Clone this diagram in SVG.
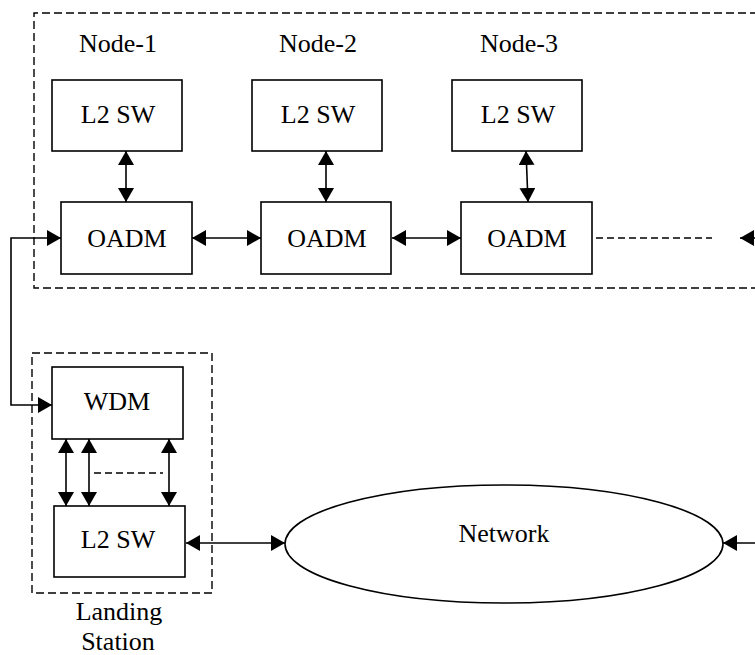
<svg xmlns="http://www.w3.org/2000/svg" width="755" height="655" viewBox="0 0 755 655">
<style>
  .box{fill:#fff;stroke:#000;stroke-width:1.6}
  .bd{fill:none;stroke:#000;stroke-width:1.4;stroke-dasharray:8,4}
  .t{font-family:'Liberation Serif','Times New Roman',Times,'DejaVu Serif',serif;font-size:26px;fill:#000;text-anchor:middle}
  .c{fill:none;stroke:#000;stroke-width:1.6}
  .cd{fill:none;stroke:#000;stroke-width:1.4;stroke-dasharray:7,4}
</style>
<defs>
  <marker id="ah" viewBox="0 0 14 16" refX="14" refY="8" markerWidth="14" markerHeight="16" markerUnits="userSpaceOnUse" orient="auto-start-reverse">
    <path d="M0,0 L14,8 L0,16 z" fill="#000"/>
  </marker>
</defs>
<rect width="755" height="655" fill="#fff"/>
<g id="borders">
  <path class="bd" d="M770,13 H34 V288 H770"/>
  <rect class="bd" x="32" y="353" width="180" height="240"/>
</g>
<g id="labels">
  <text class="t" x="118" y="52">Node-1</text>
  <text class="t" x="318" y="52">Node-2</text>
  <text class="t" x="519" y="52">Node-3</text>
  <text class="t" x="119" y="620">Landing</text>
  <text class="t" x="118" y="650">Station</text>
</g>
<g id="sw1"><rect class="box" x="52" y="80" width="130" height="71"/><text class="t" x="118" y="123">L2 SW</text></g>
<g id="sw2"><rect class="box" x="252" y="80" width="130" height="71"/><text class="t" x="318" y="123">L2 SW</text></g>
<g id="sw3"><rect class="box" x="452" y="80" width="130" height="71"/><text class="t" x="518" y="123">L2 SW</text></g>
<g id="oadm1"><rect class="box" x="61" y="202" width="131" height="72"/><text class="t" x="127" y="247">OADM</text></g>
<g id="oadm2"><rect class="box" x="261" y="202" width="130" height="72"/><text class="t" x="327" y="247">OADM</text></g>
<g id="oadm3"><rect class="box" x="461" y="202" width="131" height="72"/><text class="t" x="527" y="247">OADM</text></g>
<g id="wdm"><rect class="box" x="52" y="367" width="131" height="72"/><text class="t" x="117" y="410">WDM</text></g>
<g id="swl"><rect class="box" x="54" y="506" width="131" height="71"/><text class="t" x="118" y="548">L2 SW</text></g>
<g id="network"><ellipse class="box" cx="504" cy="544" rx="219" ry="59"/><text class="t" x="504" y="542">Network</text></g>
<g id="connectors">
  <line class="c" x1="126" y1="151" x2="126" y2="202" marker-start="url(#ah)" marker-end="url(#ah)"/>
  <line class="c" x1="326" y1="151" x2="326" y2="202" marker-start="url(#ah)" marker-end="url(#ah)"/>
  <line class="c" x1="526" y1="151" x2="528" y2="202" marker-start="url(#ah)" marker-end="url(#ah)"/>
  <line class="c" x1="192" y1="238" x2="261" y2="238" marker-start="url(#ah)" marker-end="url(#ah)"/>
  <line class="c" x1="392" y1="238" x2="461" y2="238" marker-start="url(#ah)" marker-end="url(#ah)"/>
  <line class="cd" x1="596" y1="238" x2="712" y2="238"/>
  <line class="c" x1="765" y1="238" x2="740" y2="238" marker-end="url(#ah)"/>
  <path class="c" d="M61,238 H11 V405 H52" marker-start="url(#ah)" marker-end="url(#ah)"/>
  <line class="c" x1="66" y1="439" x2="66" y2="506" marker-start="url(#ah)" marker-end="url(#ah)"/>
  <line class="c" x1="89" y1="439" x2="89" y2="506" marker-start="url(#ah)" marker-end="url(#ah)"/>
  <line class="c" x1="169" y1="439" x2="169" y2="506" marker-start="url(#ah)" marker-end="url(#ah)"/>
  <line class="cd" x1="94" y1="473" x2="163" y2="473"/>
  <line class="c" x1="186" y1="543" x2="285" y2="543" marker-start="url(#ah)" marker-end="url(#ah)"/>
  <line class="c" x1="765" y1="543" x2="723" y2="543" marker-end="url(#ah)"/>
</g>
</svg>
